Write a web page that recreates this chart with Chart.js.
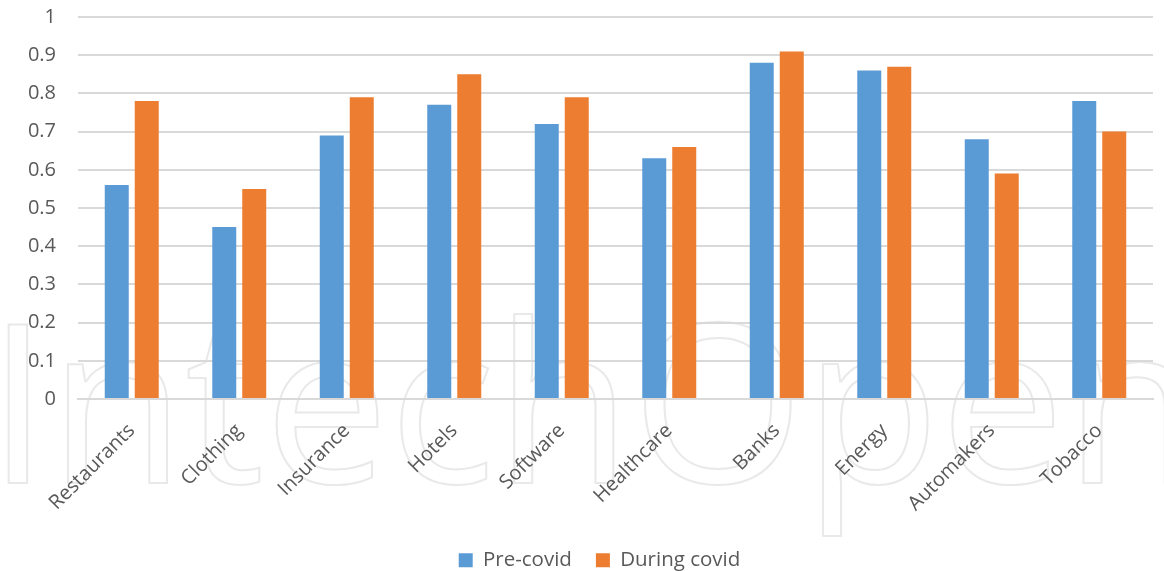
<!DOCTYPE html>
<html>
<head>
<meta charset="utf-8">
<script src="https://cdn.jsdelivr.net/npm/chart.js@4/dist/chart.umd.min.js"></script>
<style>
  html, body { margin: 0; padding: 0; background: #ffffff; }
  #wrap { width: 1164px; height: 571px; position: relative; }
</style>
</head>
<body>
<div id="wrap"><canvas id="chart" width="1164" height="571"></canvas></div>
<script>
const categories = ['Restaurants', 'Clothing', 'Insurance', 'Hotels', 'Software',
                    'Healthcare', 'Banks', 'Energy', 'Automakers', 'Tobacco'];
const preCovid    = [0.56, 0.45, 0.69, 0.77, 0.72, 0.63, 0.88, 0.86, 0.68, 0.78];
const duringCovid = [0.78, 0.55, 0.79, 0.85, 0.79, 0.66, 0.91, 0.87, 0.59, 0.70];
const yTickLabels = ['0', '0.1', '0.2', '0.3', '0.4', '0.5', '0.6', '0.7', '0.8', '0.9', '1'];

const TEXT = '#595959';
const GRID = '#d9d9d9';
const FONT = '"Open Sans", "Noto Sans", sans-serif';
const LEGEND_H = 45;     // fixed legend band height
const LEGEND_PAD = 24;   // spacing between legend entries
const LEGEND_SHIFT = 23; // legend sits slightly right of the canvas centre

// Faint outlined publisher mark behind the plot
const watermark = {
  id: 'watermark',
  beforeDraw(chart) {
    const ctx = chart.ctx;
    ctx.save();
    ctx.font = '500 222px "Open Sans"';
    ctx.textAlign = 'left';
    ctx.textBaseline = 'alphabetic';
    const lsb = ctx.measureText('I').actualBoundingBoxLeft;
    ctx.strokeStyle = '#e9e9e9';
    ctx.lineWidth = 2;
    ctx.strokeText('IntechOpen', 8 + lsb, 483);
    ctx.restore();
  }
};

// Fixed legend band height, and a small horizontal shift of the entries
const legendBand = {
  id: 'legendBand',
  afterInit(chart) {
    const lg = chart.legend;
    if (!lg) return;
    const fit = lg.fit;
    lg.fit = function () {
      fit.call(this);
      this.height = LEGEND_H;
    };
    const draw = lg.draw;
    lg.draw = function () {
      const ctx = this.ctx;
      ctx.save();
      ctx.translate(LEGEND_SHIFT, 0);
      draw.apply(this, arguments);
      ctx.restore();
    };
  }
};

new Chart(document.getElementById('chart'), {
  type: 'bar',
  data: {
    labels: categories,
    datasets: [
      { label: 'Pre-covid', data: preCovid, backgroundColor: '#5b9bd5',
        barPercentage: 0.8, categoryPercentage: 0.558 },
      { label: 'During covid', data: duringCovid, backgroundColor: '#ed7d31',
        barPercentage: 0.8, categoryPercentage: 0.558 }
    ]
  },
  options: {
    responsive: false,
    animation: false,
    layout: { padding: { top: 17, right: 11, left: 0, bottom: 0 } },
    plugins: {
      legend: {
        position: 'bottom',
        labels: {
          color: TEXT,
          font: { family: FONT, size: 20.5 },
          boxWidth: 14,
          boxHeight: 14,
          padding: LEGEND_PAD
        }
      },
      tooltip: { enabled: false }
    },
    scales: {
      x: {
        grid: { display: false, drawTicks: false },
        border: { display: true, color: GRID, width: 2 },
        ticks: {
          color: TEXT,
          font: { family: FONT, size: 20 },
          maxRotation: 45,
          minRotation: 45,
          padding: 20,
          labelOffset: 0
        },
        afterFit(scale) {
          scale.height = 571 - 399 - LEGEND_H;
          scale.paddingTop = 0;
          scale.paddingBottom = 0;
        }
      },
      y: {
        min: 0,
        max: 1,
        grid: { color: GRID, lineWidth: 2, drawTicks: false },
        border: { display: false },
        ticks: {
          stepSize: 0.1,
          color: TEXT,
          font: { family: FONT, size: 20 },
          padding: 22,
          callback: (v, i) => yTickLabels[i]
        },
        afterFit(scale) {
          scale.width = 78;
          scale.paddingTop = 0;
          scale.paddingBottom = 0;
        }
      }
    }
  },
  plugins: [watermark, legendBand]
});
</script>
</body>
</html>
